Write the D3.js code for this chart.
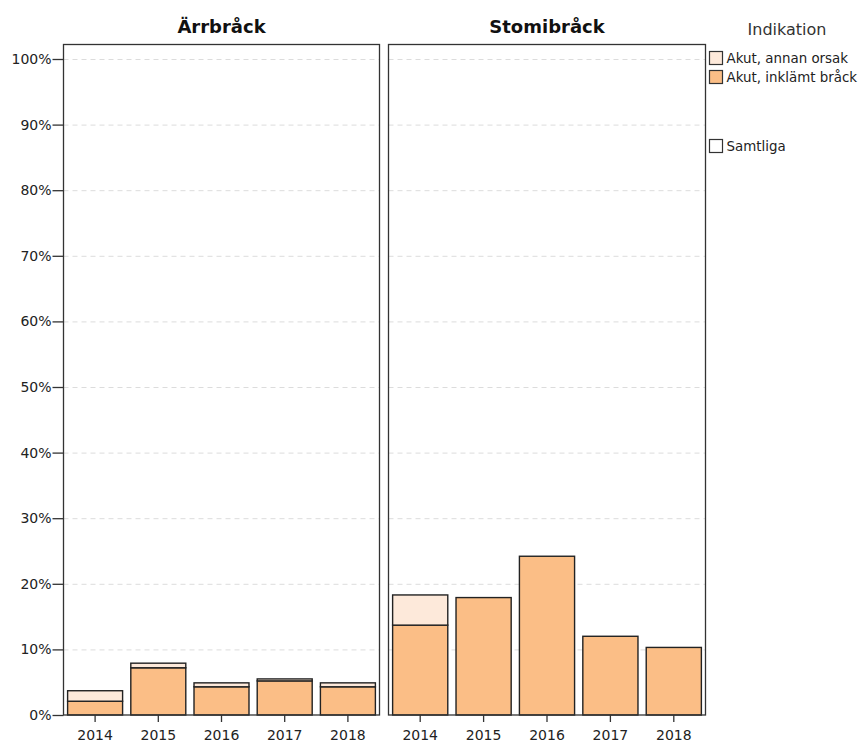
<!DOCTYPE html>
<html><head><meta charset="utf-8">
<script src="https://cdn.jsdelivr.net/npm/d3@7"></script>
<style>body{margin:0;background:#fff}svg{display:block;font-family:"DejaVu Sans",sans-serif}</style>
</head><body><svg id="c" width="864" height="742"></svg>
<script>
const years = ["2014","2015","2016","2017","2018"];
const panels = ["Ärrbråck","Stomibråck"];
const arrInklamt = [2.1, 7.2, 4.3, 5.2, 4.3];
const arrAnnan   = [1.6, 0.7, 0.6, 0.3, 0.6];
const stomiInklamt = [13.7, 17.9, 24.2, 12.0, 10.3];
const stomiAnnan   = [4.6, 0, 0, 0, 0];
const yTicks = [0,10,20,30,40,50,60,70,80,90,100];
const legendLabels = ["Akut, annan orsak","Akut, inklämt bråck","Samtliga"];
const legendTitle = "Indikation";
const colAnnan = "#fde9da", colInklamt = "#fbbe86";
const FONT = "DejaVu Sans, sans-serif";

const svg = d3.select("#c");
const y = d3.scaleLinear().domain([0,100]).range([715,59]);
const panelTop = 44.5, panelBottom = 715;
const panelX = [[63.5,379.5],[388.5,705.5]];
const data = [[arrInklamt, arrAnnan],[stomiInklamt, stomiAnnan]];

panels.forEach((name,pi)=>{
  const [x0,x1] = panelX[pi];
  const x = d3.scaleBand().domain(years).range([x0,x1]).paddingInner(0.13).paddingOuter(0.065);
  const g = svg.append("g");
  g.selectAll("line.grid").data(yTicks.filter(d=>d>0)).join("line")
    .attr("x1",x0).attr("x2",x1).attr("y1",d=>y(d)+0.5).attr("y2",d=>y(d)+0.5)
    .attr("stroke","#dcdcdc").attr("stroke-dasharray","5,4").attr("stroke-width",1);
  const [inkl, ann] = data[pi];
  const rows = years.map((yr,i)=>({yr, a: inkl[i], b: ann[i]}));
  g.selectAll("rect.inkl").data(rows).join("rect")
    .attr("x",d=>x(d.yr)).attr("width",x.bandwidth())
    .attr("y",d=>y(d.a)).attr("height",d=>y(0)-y(d.a))
    .attr("fill",colInklamt).attr("stroke","#222").attr("stroke-width",1.4);
  g.selectAll("rect.ann").data(rows.filter(d=>d.b>0)).join("rect")
    .attr("x",d=>x(d.yr)).attr("width",x.bandwidth())
    .attr("y",d=>y(d.a+d.b)).attr("height",d=>y(d.a)-y(d.a+d.b))
    .attr("fill",colAnnan).attr("stroke","#222").attr("stroke-width",1.4);
  g.append("rect").attr("x",x0).attr("y",panelTop).attr("width",x1-x0).attr("height",panelBottom-panelTop)
    .attr("fill","none").attr("stroke","#333").attr("stroke-width",1.3);
  const xa = svg.append("g").attr("transform",`translate(0,${panelBottom})`)
    .call(d3.axisBottom(x).tickSize(7).tickSizeOuter(0));
  xa.select(".domain").remove();
  xa.selectAll(".tick line").attr("stroke","#333").attr("stroke-width",1.3);
  xa.selectAll(".tick text").attr("font-size",14).attr("fill","#222").attr("dy","1.05em")
    .attr("font-family",FONT);
  svg.append("text").attr("x",(x0+x1)/2).attr("y",33).attr("text-anchor","middle")
    .attr("font-family",FONT).attr("font-weight","bold").attr("font-size",18).attr("fill","#111").text(name);
});

const ya = svg.append("g").attr("transform","translate(63.5,0)")
  .call(d3.axisLeft(y).tickValues(yTicks).tickFormat(d=>d+"%").tickSize(11).tickSizeOuter(0));
ya.select(".domain").remove();
ya.selectAll(".tick line").attr("stroke","#333").attr("stroke-width",1.3);
ya.selectAll(".tick text").attr("font-size",14).attr("fill","#222").attr("x",-12)
  .attr("font-family",FONT);

svg.append("text").attr("x",787).attr("y",35).attr("text-anchor","middle")
  .attr("font-family",FONT).attr("font-size",16).attr("fill","#333").text(legendTitle);
const legY = [51, 70, 139];
const legFill = [colAnnan, colInklamt, "#fff"];
legendLabels.forEach((lab,i)=>{
  svg.append("rect").attr("x",709.5).attr("y",legY[i]+0.5).attr("width",13).attr("height",13)
    .attr("fill",legFill[i]).attr("stroke","#333").attr("stroke-width",1.2);
  svg.append("text").attr("x",726.5).attr("y",legY[i]+12).attr("font-size",13.4)
    .attr("font-family",FONT).attr("fill","#222").text(lab);
});
</script></body></html>
